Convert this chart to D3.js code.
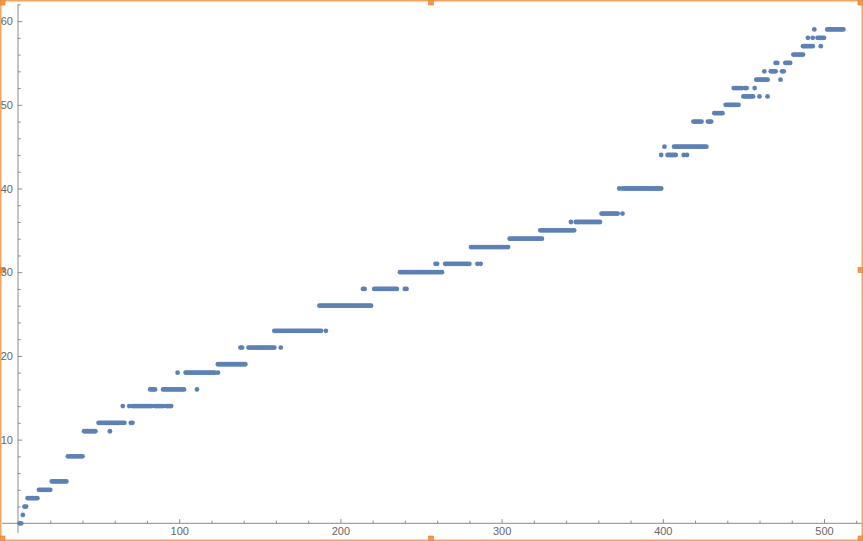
<!DOCTYPE html>
<html><head><meta charset="utf-8">
<script src="https://cdn.jsdelivr.net/npm/d3@7"></script>
<style>
html,body{margin:0;padding:0;background:#fff;}
svg{display:block;}
text{font-family:"Liberation Sans",Arial,sans-serif;}
</style></head>
<body>
<svg id="c" width="863" height="541"></svg>
<script>
// Runs of the plotted sequence: each run is consecutive integer x positions at one level
const runLevel = [0,1,2,3,4,5,8,11,11,12,12,14,14,14,14,14,16,16,16,18,18,18,19,21,21,21,23,23,26,28,28,28,30,31,31,31,31,33,34,35,36,36,37,37,40,40,44,44,44,44,45,45,48,48,49,50,51,51,51,52,52,52,53,53,54,54,54,55,55,56,57,57,58,58,58,59,59];
const runStart = [1,3,4,6,13,21,31,41,57,50,70,65,69,71,85,92,82,90,111,99,104,124,124,138,143,163,159,191,187,214,221,240,237,259,265,285,287,281,305,324,343,346,362,375,373,375,399,403,413,415,401,407,419,428,432,439,450,460,465,444,451,457,458,473,463,467,474,470,476,481,487,498,490,493,496,494,502];
const runEnd   = [2,3,5,12,20,30,40,48,57,66,71,65,69,83,90,95,85,103,111,99,122,124,141,139,159,163,188,191,219,215,235,241,263,260,280,285,287,304,325,345,343,361,372,375,373,399,399,408,413,415,401,427,424,430,437,447,456,460,465,449,452,457,465,473,463,470,475,471,479,487,493,498,490,493,500,494,512];
const xMajor = [100,200,300,400,500];
const yMajor = [10,20,30,40,50,60];

const pts = [];
runLevel.forEach((lv,i)=>{ for(let x=runStart[i];x<=runEnd[i];x++) pts.push({x:x,y:lv}); });

const svg = d3.select("#c");
const x = d3.scaleLinear().domain([0,500]).range([18,824]);
const y = d3.scaleLinear().domain([0,60]).range([523.3,21.1]);
const axisCol = "#8a8a8a";

// frame (selection box)
const orange = "#f5a55e";
svg.append("rect").attr("x",0.75).attr("y",0.75).attr("width",861.5).attr("height",539.5)
  .attr("fill","none").attr("stroke",orange).attr("stroke-width",1.5);
[[0,0],[431,0],[861,0],[0,270],[861,270],[0,540],[431,540],[861,540]].forEach(([hx,hy])=>{
  svg.append("rect").attr("x",Math.max(0,Math.min(858,hx-2.5))).attr("y",Math.max(0,Math.min(536,hy-2.5)))
    .attr("width",5).attr("height",5).attr("fill","#f29a4a").attr("stroke","#d9802e").attr("stroke-width",0.6);
});

// axes lines
svg.append("line").attr("x1",x(-9.8)).attr("x2",x(523.5)).attr("y1",y(0)).attr("y2",y(0))
  .attr("stroke",axisCol).attr("stroke-width",1);
svg.append("line").attr("x1",x(0)).attr("x2",x(0)).attr("y1",y(-1.15)).attr("y2",y(62))
  .attr("stroke",axisCol).attr("stroke-width",1);

const xMinorVals = d3.range(20,521,20).filter(v=>v%100!==0);
const yMinorVals = d3.range(2,63,2).filter(v=>v%10!==0);

const gxm = svg.append("g").attr("transform",`translate(0,${y(0)})`)
  .call(d3.axisBottom(x).tickValues(xMinorVals).tickSize(-2.6).tickFormat(""));
const gx = svg.append("g").attr("transform",`translate(0,${y(0)})`)
  .call(d3.axisBottom(x).tickValues(xMajor).tickSize(-4.2).tickPadding(4).tickFormat(d3.format("d")));
const gym = svg.append("g").attr("transform",`translate(${x(0)},0)`)
  .call(d3.axisLeft(y).tickValues(yMinorVals).tickSize(-2.6).tickFormat(""));
const gy = svg.append("g").attr("transform",`translate(${x(0)},0)`)
  .call(d3.axisLeft(y).tickValues(yMajor).tickSize(-4.2).tickPadding(5).tickFormat(d3.format("d")));
[gxm,gx,gym,gy].forEach(g=>{
  g.select(".domain").remove();
  g.selectAll(".tick line").attr("stroke",axisCol);
  g.selectAll(".tick text").attr("fill","#666").style("font-size","11px").style("font-family","'Liberation Sans',Arial,sans-serif");
});

svg.append("g").selectAll("circle").data(pts).enter().append("circle")
  .attr("cx",d=>x(d.x)).attr("cy",d=>y(d.y)).attr("r",2.4)
  .attr("fill","rgb(94,129,181)");
</script>
</body></html>
